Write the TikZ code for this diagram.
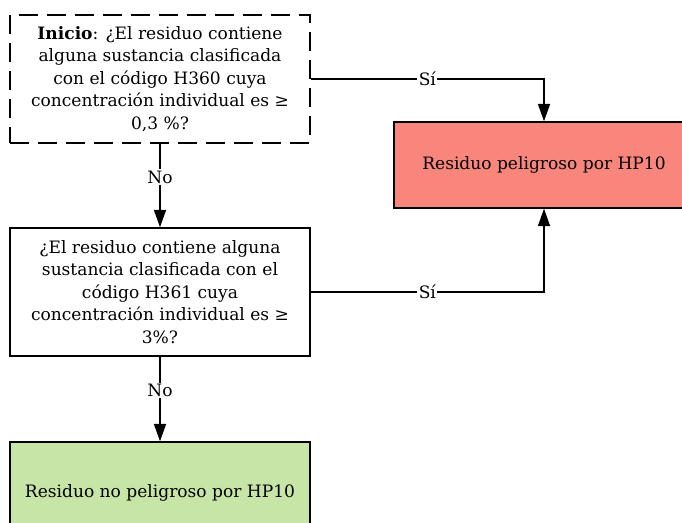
\documentclass[tikz,border=0pt]{standalone}
\usepackage{fontspec}
\setmainfont{DejaVu Serif}
\usetikzlibrary{arrows.meta, positioning}
\definecolor{hazardred}{RGB}{248,134,124}
\definecolor{safegreen}{RGB}{198,229,166}

\begin{document}
\begin{tikzpicture}[x=0.75pt, y=-0.75pt, font=\fontsize{12.8}{16.8}\selectfont,
    box/.style={draw, line width=1.1pt, minimum width=225pt, align=center, inner sep=0pt},
    question/.style={box, minimum height=96pt},
    result/.style={box, minimum height=64.5pt},
    arr/.style={line width=1.1pt, -{Triangle[width=9pt, length=13pt]}},
    lbl/.style={fill=white, inner sep=1pt}]
    \useasboundingbox (0,0) rectangle (682,523);
    \clip (0,0) rectangle (682,523);

    % Questions
    \node[question, dashed, dash pattern=on 14pt off 7pt] (inicio) at (160,79)
        {\textbf{Inicio}: ¿El residuo contiene\\ alguna sustancia clasificada\\ con el código H360 cuya\\ concentración individual es ≥\\ 0,3~\%?};
    \node[question] (h361) at (160,292)
        {¿El residuo contiene alguna\\ sustancia clasificada con el\\ código H361 cuya\\ concentración individual es ≥\\ 3\%?};

    % Results
    \node[result, fill=hazardred] (peligroso) at (544,165) {Residuo peligroso por HP10};
    \node[result, fill=safegreen, minimum height=76.5pt] (nopeligroso) at (160,493) {Residuo no peligroso por HP10};

    % Connectors
    \draw[arr] (inicio.east) -- node[lbl] {Sí} (inicio.east -| peligroso.north) -- (peligroso.north);
    \draw[arr] (h361.east) -- node[lbl] {Sí} (h361.east -| peligroso.south) -- (peligroso.south);
    \draw[arr] (inicio.south) -- node[lbl, pos=0.4] {No} (h361.north);
    \draw[arr] (h361.south) -- node[lbl, pos=0.4] {No} (nopeligroso.north);
\end{tikzpicture}
\end{document}
